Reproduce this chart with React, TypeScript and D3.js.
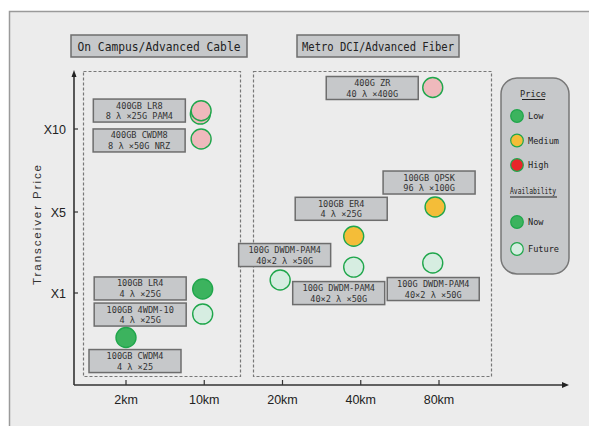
import React from "react";
import * as d3 from "d3";

// distance ticks and price levels
const distances = ["2km", "10km", "20km", "40km", "80km"];
const priceTicks = ["X1", "X5", "X10"];

// points: position on distance index, price level (1 = X1, 2 = X5, 3 = X10)
const names = [
  "400GB LR8", "", "400GB CWDM8", "400G ZR", "100GB QPSK", "100GB ER4",
  "100GB LR4", "100GB 4WDM-10", "100GB CWDM4",
  "100G DWDM-PAM4", "100G DWDM-PAM4", "100G DWDM-PAM4",
];
const subNames = [
  "8 λ ×25G PAM4", "", "8 λ ×50G NRZ", "40 λ ×400G", "96 λ ×100G", "4 λ ×25G",
  "4 λ ×25G", "4 λ ×25G", "4 λ ×25",
  "40×2 λ ×50G", "40×2 λ ×50G", "40×2 λ ×50G",
];
const distPos = [0.95, 0.96, 0.96, 3.92, 3.95, 2.91, 0.98, 0.98, 0, 1.97, 2.91, 3.92];
const priceLevel = [3.18, 3.22, 2.88, 3.5, 2.06, 1.7, 1.05, 0.74, 0.45, 1.16, 1.32, 1.37];
const price = ["High", "High", "High", "High", "Medium", "Medium", "Low", "Low", "Low", "Low", "Low", "Low"];
const availability = ["Future", "Future", "Future", "Future", "Now", "Now", "Now", "Future", "Now", "Future", "Future", "Future"];

// label box offsets from the point (pixels)
const labelDx = [-61, 0, -62, -60.5, -6, -12.5, -62.5, -62.5, 9, 4.5, -15, 0.5];
const labelDy = [-3.5, 0, 1.5, 0.5, -24.5, -27.5, -0.5, 0.5, 23.5, -25, 26, 26];

const fillNow: Record<string, string> = { Low: "#3cb35e", Medium: "#f4bd38", High: "#e8262a" };
const fillFuture: Record<string, string> = { Low: "#d6ede1", Medium: "#fbe6b0", High: "#efb9bc" };
const ringColor = "#1fa64b";

const mono = "'DejaVu Sans Mono', monospace";
const sans = "'Liberation Sans', Arial, sans-serif";

const App = () => {
  const W = 589, H = 426;
  const x = d3.scaleLinear().domain([0, 4]).range([126, 439]);
  const y = d3.scaleLinear().domain([1, 2, 3]).range([293, 212, 129]);

  const axisX0 = 74, axisY0 = 385;
  const boxW = 92, boxH = 23;

  return (
    <svg width={W} height={H} style={{ position: "absolute", left: 0, top: 0, display: "block" }}>
      <rect x={0} y={0} width={W} height={H} fill="#fff" />
      <rect x={9.5} y={11.5} width={620} height={440} fill="#ececec" stroke="#9a9a9a" strokeWidth={1.5} />

      {/* group titles */}
      <rect x={71} y={35} width={176} height={22} fill="#c6c8ca" stroke="#6d6d6d" strokeWidth={1.5} />
      <text x={159} y={50.5} textAnchor="middle" fontFamily={mono} fontSize={12.5} fill="#222"
        textLength={163} lengthAdjust="spacingAndGlyphs">On Campus/Advanced Cable</text>
      <rect x={297} y={35} width={162} height={22} fill="#c6c8ca" stroke="#6d6d6d" strokeWidth={1.5} />
      <text x={378} y={50.5} textAnchor="middle" fontFamily={mono} fontSize={12.5} fill="#222"
        textLength={152} lengthAdjust="spacingAndGlyphs">Metro DCI/Advanced Fiber</text>

      {/* dashed regions */}
      <rect x={83.5} y={71.5} width={157} height={305} fill="none" stroke="#777" strokeWidth={1.2} strokeDasharray="3,2" />
      <rect x={253.5} y={71.5} width={238} height={305} fill="none" stroke="#777" strokeWidth={1.2} strokeDasharray="3,2" />

      {/* axes */}
      <line x1={axisX0} y1={axisY0} x2={axisX0} y2={76} stroke="#333" strokeWidth={1.6} />
      <path d={`M${axisX0 - 2.5},${77} L${axisX0},${70} L${axisX0 + 2.5},${77} Z`} fill="#222" />
      <line x1={axisX0} y1={axisY0} x2={563} y2={axisY0} stroke="#333" strokeWidth={1.6} />
      <path d={`M${562},${axisY0 - 3} L${569},${axisY0} L${562},${axisY0 + 3} Z`} fill="#222" />

      {priceTicks.map((t, i) => (
        <g key={t}>
          <line x1={axisX0} x2={axisX0 + 4} y1={y(i + 1)} y2={y(i + 1)} stroke="#333" strokeWidth={1.2} />
          <text x={66} y={y(i + 1) + 4.5} textAnchor="end" fontFamily={sans} fontSize={12.5} fill="#222">{t}</text>
        </g>
      ))}
      {distances.map((d, i) => (
        <g key={d}>
          <line x1={x(i)} x2={x(i)} y1={axisY0} y2={axisY0 - 5} stroke="#333" strokeWidth={1.2} />
          <text x={x(i)} y={403.5} textAnchor="middle" fontFamily={sans} fontSize={12.5} fill="#222">{d}</text>
        </g>
      ))}
      <text transform="translate(41,225) rotate(-90)" textAnchor="middle" fontFamily={sans} fontSize={11.5}
        fill="#333" textLength={120} lengthAdjust="spacing">Transceiver Price</text>

      {/* label boxes */}
      {names.map((n, i) => {
        if (!n) return null;
        const cx = x(distPos[i]) + labelDx[i];
        const cy = y(priceLevel[i]) + labelDy[i];
        return (
          <g key={"l" + i}>
            <rect x={cx - boxW / 2} y={cy - boxH / 2} width={boxW} height={boxH} fill="#c6c8ca" stroke="#6d6d6d" strokeWidth={1.5} />
            <text x={cx} y={cy - 2} textAnchor="middle" fontFamily={mono} fontSize={8.6} fill="#333">{n}</text>
            <text x={cx} y={cy + 8.5} textAnchor="middle" fontFamily={mono} fontSize={8.6} fill="#333">{subNames[i]}</text>
          </g>
        );
      })}

      {/* points */}
      {distPos.map((d, i) => (
        <circle key={"p" + i} cx={x(d)} cy={y(priceLevel[i])} r={10}
          fill={availability[i] === "Now" ? fillNow[price[i]] : fillFuture[price[i]]}
          stroke={ringColor} strokeWidth={1.4} />
      ))}

      {/* legend */}
      <rect x={501} y={78} width={68} height={196} rx={16} fill="#c6c8ca" stroke="#777" strokeWidth={1.5} />
      <text x={533} y={97} textAnchor="middle" fontFamily={mono} fontSize={8.6} fill="#222">Price</text>
      <line x1={522} x2={545} y1={99.5} y2={99.5} stroke="#222" strokeWidth={1} />
      {["Low", "Medium", "High"].map((p, i) => (
        <g key={p}>
          <circle cx={517} cy={116 + i * 24.5} r={6.3} fill={fillNow[p]} stroke={ringColor} strokeWidth={1.2} />
          <text x={528} y={119 + i * 24.5} fontFamily={mono} fontSize={8.6} fill="#222">{p}</text>
        </g>
      ))}
      <text x={533} y={194} textAnchor="middle" fontFamily={mono} fontSize={8.6} fill="#222" textLength={46} lengthAdjust="spacingAndGlyphs">Availability</text>
      <line x1={510} x2={557} y1={197} y2={197} stroke="#222" strokeWidth={1} />
      {["Now", "Future"].map((a, i) => (
        <g key={a}>
          <circle cx={517} cy={222 + i * 27} r={6.3} fill={a === "Now" ? fillNow.Low : fillFuture.Low} stroke={ringColor} strokeWidth={1.2} />
          <text x={528} y={225 + i * 27} fontFamily={mono} fontSize={8.6} fill="#222">{a}</text>
        </g>
      ))}
    </svg>
  );
};

export default App;
